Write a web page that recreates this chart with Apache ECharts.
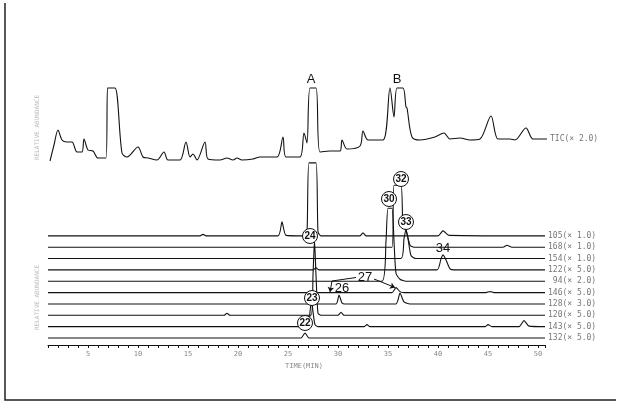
<!DOCTYPE html>
<html>
<head>
<meta charset="utf-8">
<script src="https://cdn.jsdelivr.net/npm/echarts@6/dist/echarts.min.js"></script>
<style>
  html, body { margin: 0; background: #fff; }
  #chart { width: 621px; height: 416px; }
</style>
</head>
<body>
<div id="chart"></div>
<script>
// retention time axis (min)
const tickLabels = [5, 10, 15, 20, 25, 30, 35, 40, 45, 50];

// TIC trace: [time, height]
const tic = [
  [1.2, 184], [1.6, 200], [2.0, 215], [2.4, 205], [2.9, 203], [3.4, 203], [3.9, 193], [4.4, 193], [4.6, 206],
  [5.0, 195], [5.5, 194], [6.0, 187], [6.8, 187], [6.95, 257], [7.1, 257], [7.7, 257], [8.4, 192],
  [8.9, 188], [10.0, 198], [10.5, 188], [11.0, 187], [11.9, 185], [12.6, 193], [13.0, 185], [14.2, 185],
  [14.8, 203], [15.2, 188], [15.5, 191], [15.9, 185], [16.7, 203], [17.0, 186], [18.2, 185], [18.9, 187],
  [19.5, 185], [19.9, 187], [20.4, 185], [21.5, 186], [22.2, 188], [23.9, 188], [24.5, 208], [24.8, 188],
  [26.2, 188], [26.6, 212], [26.9, 202], [27.2, 257], [27.8, 257], [28.2, 193], [29.2, 194], [30.2, 194],
  [30.4, 205], [30.9, 196], [32.2, 199], [32.5, 214], [33.0, 205], [34.5, 205], [35.2, 257], [35.6, 228],
  [35.9, 257], [36.5, 257], [36.8, 238], [36.9, 237], [37.4, 208], [38.2, 205], [39.7, 208], [40.6, 212],
  [41.2, 206], [42.2, 207], [43.2, 205], [44.2, 206], [45.3, 229], [46.0, 206], [47.2, 206], [47.7, 205],
  [48.8, 217], [49.5, 206], [50.9, 206]
];

// mass chromatograms, [time, height above own baseline]
const ion105 = [[1, 0], [16.2, 0], [16.5, 1.5], [16.8, 0], [24.0, 0], [24.4, 14], [24.8, 0.5], [26.6, 0], [26.9, 4],
  [27.1, 73], [27.8, 73], [28.0, 4], [28.3, 0], [32.2, 0], [32.5, 3], [32.8, 0], [40.0, 0], [40.5, 5], [41.1, 0.5], [50.7, 0]];
const ion168 = [[1, 0], [35.4, 0], [35.6, 62], [36.3, 62], [36.5, 20], [36.8, 17], [37.2, 2], [37.6, 0],
  [46.5, 0], [46.9, 2], [47.4, 0], [50.7, 0]];
const ion154 = [[1, 0], [36.3, 0], [36.6, 20], [36.8, 29], [37.0, 20], [37.3, 3], [37.8, 0], [50.7, 0]];
const ion122 = [[1, 0], [27.5, 0], [27.8, 2], [28.1, 0], [39.9, 0], [40.3, 11], [40.5, 15], [40.8, 10], [41.2, 1], [41.6, 0], [50.7, 0]];
const ion94 = [[1, 0], [34.4, 0], [34.8, 40], [35.0, 73], [35.4, 73], [35.6, 40], [35.8, 8], [36.2, 2], [36.8, 0], [50.7, 0]];
const ion146 = [[1, 0], [35.4, 0], [35.8, 5], [36.2, 1], [36.6, 0], [44.8, 0], [45.2, 1], [45.6, 0], [50.7, 0]];
const ion128 = [[1, 0], [29.8, 0], [30.1, 9], [30.4, 1], [30.7, 0], [35.8, 0], [36.2, 11], [36.6, 2], [37.2, 0], [50.7, 0]];
const ion120 = [[1, 0], [18.6, 0], [18.9, 2], [19.2, 0], [27.3, 0], [27.5, 40], [27.65, 75], [27.8, 40], [28.0, 2], [28.3, 0],
  [30.0, 0], [30.3, 3], [30.6, 0], [50.7, 0]];
const ion143 = [[1, 0], [27.0, 0], [27.2, 15], [27.35, 27], [27.5, 15], [27.7, 2], [28.0, 0], [32.6, 0], [32.9, 2], [33.2, 0],
  [44.7, 0], [45.0, 2], [45.4, 0], [48.1, 0], [48.6, 6], [49.1, 0.5], [50.7, 0]];
const ion132 = [[1, 0], [26.3, 0], [26.7, 5], [27.1, 0], [50.7, 0]];

// bottom to top
const ionTraces = [ion132, ion143, ion120, ion128, ion146, ion94, ion122, ion154, ion168, ion105];
const ionLabels = ['132(× 5.0)', '143(× 5.0)', '120(× 5.0)', '128(× 3.0)', '146(× 5.0)',
  ' 94(× 2.0)', '122(× 5.0)', '154(× 1.0)', '168(× 1.0)', '105(× 1.0)'];
const ticLabel = 'TIC(× 2.0)';

// peak annotations [time, height]
const circled = [
  { name: '24', coord: [27.2, 109] }, { name: '32', coord: [36.3, 166] }, { name: '30', coord: [35.1, 146] },
  { name: '33', coord: [36.8, 123] }, { name: '23', coord: [27.4, 47] }, { name: '22', coord: [26.7, 22] }
];
const plainMarks = [
  { name: '34', coord: [40.5, 97] }, { name: '26', coord: [30.4, 57] }, { name: '27', coord: [32.7, 68] },
  { name: 'A', coord: [27.3, 266] }, { name: 'B', coord: [35.9, 266] }
];

const laneBase = 7, laneGap = 11.35;
const ink = '#111';

const chart = echarts.init(document.getElementById('chart'));

const series = [];
ionTraces.forEach((pts, i) => {
  const base = laneBase + i * laneGap;
  series.push({
    name: ionLabels[i],
    type: 'line',
    data: pts.map(p => [p[0], p[1] + base]),
    symbol: 'none',
    smooth: 0.2,
    lineStyle: { color: ink, width: 1.1 },
    endLabel: {
      show: true, formatter: ionLabels[i], color: '#777', fontSize: 8,
      fontFamily: 'DejaVu Sans Mono', distance: 3
    }
  });
});

series.push({
  name: 'TIC',
  type: 'line',
  data: tic,
  symbol: 'none',
  smooth: 0.3,
  z: 5,
  lineStyle: { color: ink, width: 1.1 },
  endLabel: {
    show: true, formatter: ticLabel, color: '#777', fontSize: 8,
    fontFamily: 'DejaVu Sans Mono', distance: 3
  },
  markPoint: {
    silent: true,
    data: [
      ...circled.map(c => ({
        name: c.name, coord: c.coord, symbol: 'circle', symbolSize: 15,
        itemStyle: { color: '#fff', borderColor: ink, borderWidth: 1 },
        label: { show: true, formatter: c.name, color: ink, fontSize: 10, fontWeight: 'bold', fontFamily: 'Liberation Sans' }
      })),
      ...plainMarks.map(c => ({
        name: c.name, coord: c.coord, symbol: 'circle', symbolSize: 1,
        itemStyle: { color: 'rgba(0,0,0,0)' },
        label: { show: true, position: 'inside', formatter: c.name, color: ink, fontSize: 13, fontFamily: 'Liberation Sans' }
      }))
    ]
  },
  markLine: {
    silent: true,
    animation: false,
    symbolSize: 5,
    label: { show: false },
    lineStyle: { color: ink, width: 1, type: 'solid' },
    data: [
      [{ coord: [31.8, 67.5], symbol: 'none' }, { coord: [29.4, 64], symbol: 'none' }],
      [{ coord: [29.4, 64], symbol: 'none' }, { coord: [29.2, 53], symbol: 'arrow' }],
      [{ coord: [33.6, 66], symbol: 'none' }, { coord: [35.7, 57.5], symbol: 'arrow' }]
    ]
  }
});

chart.setOption({
  animation: false,
  backgroundColor: '#fff',
  grid: { left: 48, right: 76, top: 70, bottom: 71 },
  xAxis: {
    type: 'value', min: 1, max: 50.7, interval: 1,
    name: 'TIME(MIN)', nameLocation: 'middle', nameGap: 15,
    nameTextStyle: { color: '#888', fontSize: 7, fontFamily: 'DejaVu Sans Mono', padding: [0, 0, 0, 15] },
    axisLine: { lineStyle: { color: ink, width: 1 } },
    axisTick: { length: 3, lineStyle: { color: ink } },
    splitLine: { show: false },
    axisLabel: {
      color: '#888', fontSize: 7, margin: 6, fontFamily: 'DejaVu Sans Mono',
      formatter: v => tickLabels.includes(v) ? String(v) : ''
    }
  },
  yAxis: { type: 'value', min: 0, max: 275, show: false },
  graphic: [
    { type: 'polyline', shape: { points: [[5, 3], [5, 400], [616, 400]] }, style: { fill: 'none', stroke: '#222', lineWidth: 1.5 }, silent: true },
    { type: 'text', x: 34, y: 160, rotation: Math.PI / 2, style: { text: 'RELATIVE ABUNDANCE', fill: '#bbb', fontSize: 6, fontFamily: 'DejaVu Sans Mono' } },
    { type: 'text', x: 34, y: 330, rotation: Math.PI / 2, style: { text: 'RELATIVE ABUNDANCE', fill: '#bbb', fontSize: 6, fontFamily: 'DejaVu Sans Mono' } }
  ],
  series
});
</script>
</body>
</html>
